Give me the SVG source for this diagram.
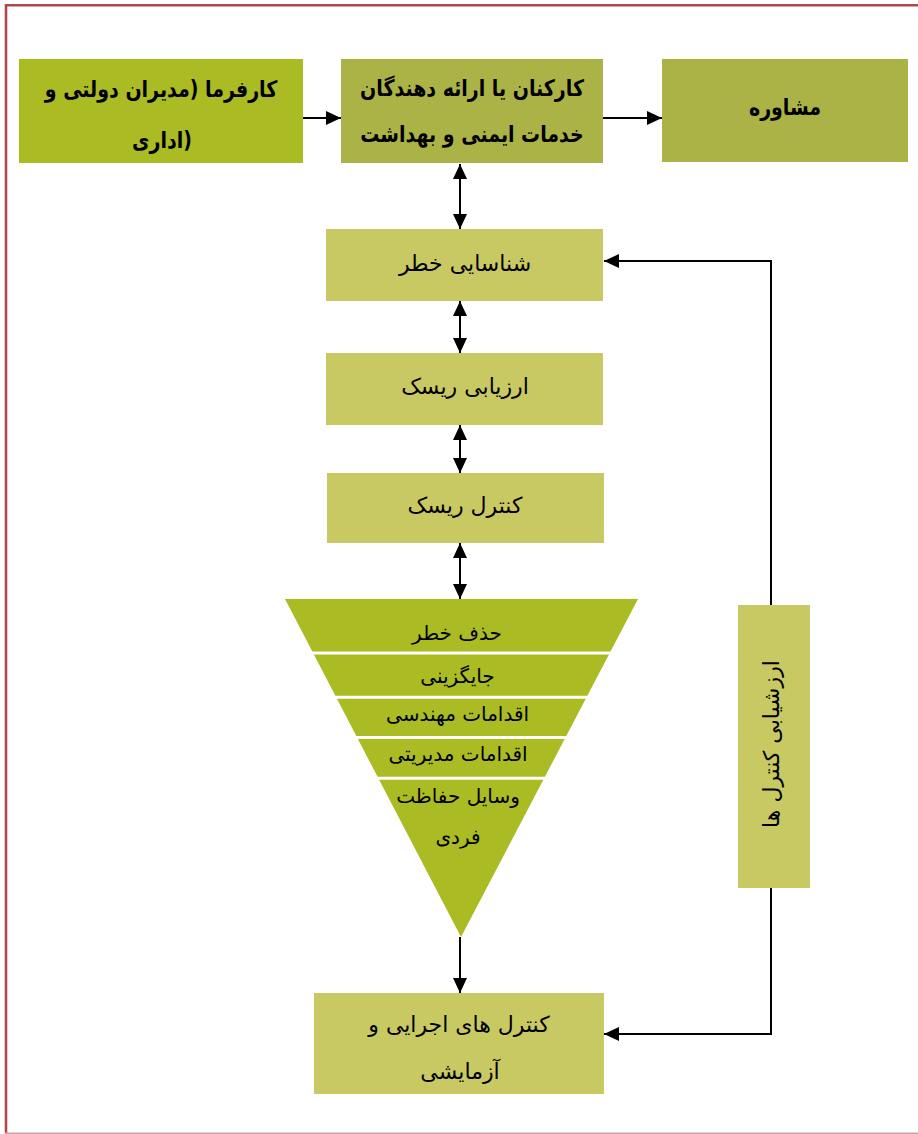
<svg xmlns="http://www.w3.org/2000/svg" width="918" height="1134" viewBox="0 0 918 1134">
<style>
  .t { font-family: 'DejaVu Sans', 'Noto Sans', sans-serif; font-size: 22px; fill: #000; text-anchor: middle; }
  .tp { font-family: 'DejaVu Sans', 'Noto Sans', sans-serif; font-size: 20px; fill: #000; text-anchor: middle; }
  .tb { font-family: 'DejaVu Sans', 'Noto Sans', sans-serif; font-size: 19px; font-weight: bold; fill: #000; text-anchor: middle; }
  .c1 { fill: #abbb23; }
  .c2 { fill: #abb347; }
  .c3 { fill: #c8c963; }
  .ln { stroke: #000; stroke-width: 2; fill: none; }
</style>
<defs>
  <marker id="ah" markerWidth="15" markerHeight="14" refX="15" refY="7" orient="auto-start-reverse" markerUnits="userSpaceOnUse">
    <path d="M0,0 L15,7 L0,14 z" fill="#000"/>
  </marker>
</defs>
<rect width="918" height="1134" fill="#fff"/>
<g id="frame">
  <line x1="5" y1="5.2" x2="918" y2="5.2" stroke="#b2474c" stroke-width="2.6"/>
  <line x1="6" y1="4" x2="6" y2="1133" stroke="#b2474c" stroke-width="2.6"/>
  <line x1="5" y1="1133.3" x2="918" y2="1133.3" stroke="#d3a3a6" stroke-width="1.5"/>
</g>
<g id="n-employer">
  <rect class="c1" x="19" y="59" width="284" height="104"/>
  <text class="tb" transform="translate(161,97) scale(1,1.2)" font-size="18.3">کارفرما (مدیران دولتی و</text>
  <text class="tb" transform="translate(162,148) scale(1,1.2)">اداری)</text>
</g>
<g id="n-workers">
  <rect class="c2" x="341" y="59" width="262" height="104"/>
  <text class="tb" transform="translate(472,96) scale(1,1.2)">کارکنان یا ارائه دهندگان</text>
  <text class="tb" transform="translate(472,142) scale(1,1.2)">خدمات ایمنی و بهداشت</text>
</g>
<g id="n-consult">
  <rect class="c2" x="662" y="59" width="246" height="103"/>
  <text class="tb" transform="translate(785,115) scale(1,1.2)">مشاوره</text>
</g>
<g id="n-identify">
  <rect class="c3" x="326" y="229" width="277" height="72"/>
  <text class="t" x="465" y="271" font-size="21.5">شناسایی خطر</text>
</g>
<g id="n-assess">
  <rect class="c3" x="326" y="353" width="277" height="72"/>
  <text class="t" x="465" y="394">ارزیابی ریسک</text>
</g>
<g id="n-control">
  <rect class="c3" x="327" y="473" width="277" height="70"/>
  <text class="t" x="465" y="513" font-size="23">کنترل ریسک</text>
</g>
<g id="n-hierarchy">
  <polygon class="c1" points="285,599 638,599 461,937"/>
  <g stroke="#fff" stroke-width="3">
    <line x1="280" y1="653" x2="645" y2="653"/>
    <line x1="280" y1="697.2" x2="645" y2="697.2"/>
    <line x1="280" y1="737.6" x2="645" y2="737.6"/>
    <line x1="280" y1="778.3" x2="645" y2="778.3"/>
  </g>
  <text class="tp" x="457" y="640">حذف خطر</text>
  <text class="tp" x="457.5" y="683">جایگزینی</text>
  <text class="tp" x="457.5" y="721">اقدامات مهندسی</text>
  <text class="tp" x="458" y="761">اقدامات مدیریتی</text>
  <text class="tp" x="458" y="803">وسایل حفاظت</text>
  <text class="tp" x="458" y="844">فردی</text>
</g>
<g id="n-evaluate">
  <rect class="c3" x="738" y="605" width="72" height="283"/>
  <text class="t" transform="translate(779,744) rotate(-90)" x="0" y="0" font-size="23">ارزشیابی کنترل ها</text>
</g>
<g id="n-operational">
  <rect class="c3" x="314" y="993" width="290" height="101"/>
  <text class="t" x="459" y="1032">کنترل های اجرایی و</text>
  <text class="t" x="460" y="1079">آزمایشی</text>
</g>
<g id="connectors">
  <line class="ln" x1="303" y1="118" x2="341" y2="118" marker-end="url(#ah)"/>
  <line class="ln" x1="603" y1="118" x2="662" y2="118" marker-end="url(#ah)"/>
  <line class="ln" x1="460" y1="164" x2="460" y2="229" marker-start="url(#ah)" marker-end="url(#ah)"/>
  <line class="ln" x1="460" y1="301" x2="460" y2="353" marker-start="url(#ah)" marker-end="url(#ah)"/>
  <line class="ln" x1="460" y1="425" x2="460" y2="473" marker-start="url(#ah)" marker-end="url(#ah)"/>
  <line class="ln" x1="460" y1="543" x2="460" y2="599" marker-start="url(#ah)" marker-end="url(#ah)"/>
  <line class="ln" x1="460" y1="937" x2="460" y2="993" marker-end="url(#ah)"/>
  <polyline class="ln" points="771,605 771,261 604,261" marker-end="url(#ah)"/>
  <polyline class="ln" points="771,888 771,1034 604,1034" marker-end="url(#ah)"/>
</g>
</svg>
